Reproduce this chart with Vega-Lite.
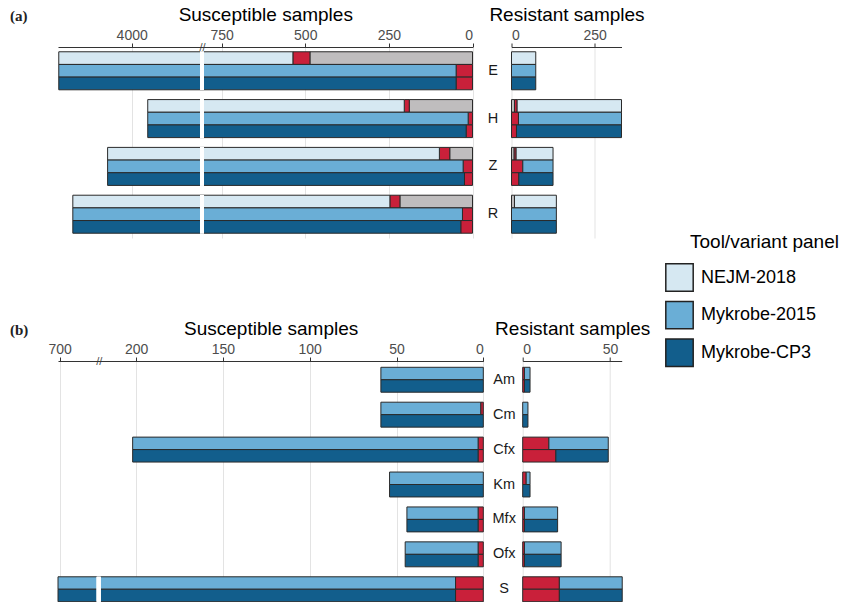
{
  "$schema": "https://vega.github.io/schema/vega-lite/v6.json",
  "padding": {"left": 10, "top": 5, "right": 0, "bottom": 0},
  "config": {
    "font": "Liberation Sans",
    "view": {"stroke": null},
    "axis": {
      "labelFont": "Liberation Sans", "labelFontSize": 14, "labelColor": "#4d4d4d",
      "titleFont": "Liberation Sans", "titleFontSize": 19, "titleFontWeight": "normal", "titleColor": "#000",
      "domainColor": "#333", "tickColor": "#333", "tickSize": 4, "gridColor": "#e3e3e3",
      "labelPadding": 1, "titlePadding": 4
    },
    "legend": {
      "orient": "none", "legendX": 632, "legendY": 186,
      "titleFontSize": 19, "titleFontWeight": "normal", "titleColor": "#000", "titleFont": "Liberation Sans", "titlePadding": 11,
      "labelFontSize": 18, "labelFont": "Liberation Sans", "labelColor": "#000",
      "symbolType": "square", "symbolSize": 751, "symbolStrokeColor": "#222", "symbolStrokeWidth": 1.5, "symbolOpacity": 1,
      "symbolOffset": -25, "labelOffset": 7,
      "rowPadding": 2.6, "labelLimit": 300, "titleLimit": 300
    }
  },
  "datasets": {
    "aS": [
      {"drug": "E", "tool": "NEJM-2018", "cat": "No call", "n": 486, "o": 1},
      {"drug": "E", "tool": "NEJM-2018", "cat": "Wrong", "n": 51, "o": 2},
      {"drug": "E", "tool": "NEJM-2018", "cat": "NEJM-2018", "n": 3681, "o": 3},
      {"drug": "E", "tool": "Mykrobe-2015", "cat": "Wrong", "n": 49, "o": 2},
      {"drug": "E", "tool": "Mykrobe-2015", "cat": "Mykrobe-2015", "n": 4169, "o": 3},
      {"drug": "E", "tool": "Mykrobe-CP3", "cat": "Wrong", "n": 49, "o": 2},
      {"drug": "E", "tool": "Mykrobe-CP3", "cat": "Mykrobe-CP3", "n": 4169, "o": 3},
      {"drug": "H", "tool": "NEJM-2018", "cat": "No call", "n": 189, "o": 1},
      {"drug": "H", "tool": "NEJM-2018", "cat": "Wrong", "n": 15, "o": 2},
      {"drug": "H", "tool": "NEJM-2018", "cat": "NEJM-2018", "n": 3748, "o": 3},
      {"drug": "H", "tool": "Mykrobe-2015", "cat": "Wrong", "n": 13, "o": 2},
      {"drug": "H", "tool": "Mykrobe-2015", "cat": "Mykrobe-2015", "n": 3939, "o": 3},
      {"drug": "H", "tool": "Mykrobe-CP3", "cat": "Wrong", "n": 19, "o": 2},
      {"drug": "H", "tool": "Mykrobe-CP3", "cat": "Mykrobe-CP3", "n": 3933, "o": 3},
      {"drug": "Z", "tool": "NEJM-2018", "cat": "No call", "n": 68, "o": 1},
      {"drug": "Z", "tool": "NEJM-2018", "cat": "Wrong", "n": 31, "o": 2},
      {"drug": "Z", "tool": "NEJM-2018", "cat": "NEJM-2018", "n": 3973, "o": 3},
      {"drug": "Z", "tool": "Mykrobe-2015", "cat": "Wrong", "n": 28, "o": 2},
      {"drug": "Z", "tool": "Mykrobe-2015", "cat": "Mykrobe-2015", "n": 4044, "o": 3},
      {"drug": "Z", "tool": "Mykrobe-CP3", "cat": "Wrong", "n": 24, "o": 2},
      {"drug": "Z", "tool": "Mykrobe-CP3", "cat": "Mykrobe-CP3", "n": 4048, "o": 3},
      {"drug": "R", "tool": "NEJM-2018", "cat": "No call", "n": 217, "o": 1},
      {"drug": "R", "tool": "NEJM-2018", "cat": "Wrong", "n": 30, "o": 2},
      {"drug": "R", "tool": "NEJM-2018", "cat": "NEJM-2018", "n": 3929, "o": 3},
      {"drug": "R", "tool": "Mykrobe-2015", "cat": "Wrong", "n": 30, "o": 2},
      {"drug": "R", "tool": "Mykrobe-2015", "cat": "Mykrobe-2015", "n": 4146, "o": 3},
      {"drug": "R", "tool": "Mykrobe-CP3", "cat": "Wrong", "n": 35, "o": 2},
      {"drug": "R", "tool": "Mykrobe-CP3", "cat": "Mykrobe-CP3", "n": 4141, "o": 3}
    ],
    "aR": [
      {"drug": "E", "tool": "NEJM-2018", "cat": "NEJM-2018", "n": 73, "o": 3},
      {"drug": "E", "tool": "Mykrobe-2015", "cat": "Mykrobe-2015", "n": 73, "o": 3},
      {"drug": "E", "tool": "Mykrobe-CP3", "cat": "Mykrobe-CP3", "n": 73, "o": 3},
      {"drug": "H", "tool": "NEJM-2018", "cat": "No call", "n": 9, "o": 1},
      {"drug": "H", "tool": "NEJM-2018", "cat": "Wrong", "n": 8, "o": 2},
      {"drug": "H", "tool": "NEJM-2018", "cat": "NEJM-2018", "n": 314, "o": 3},
      {"drug": "H", "tool": "Mykrobe-2015", "cat": "Wrong", "n": 21, "o": 2},
      {"drug": "H", "tool": "Mykrobe-2015", "cat": "Mykrobe-2015", "n": 310, "o": 3},
      {"drug": "H", "tool": "Mykrobe-CP3", "cat": "Wrong", "n": 15, "o": 2},
      {"drug": "H", "tool": "Mykrobe-CP3", "cat": "Mykrobe-CP3", "n": 316, "o": 3},
      {"drug": "Z", "tool": "NEJM-2018", "cat": "No call", "n": 8, "o": 1},
      {"drug": "Z", "tool": "NEJM-2018", "cat": "Wrong", "n": 6, "o": 2},
      {"drug": "Z", "tool": "NEJM-2018", "cat": "NEJM-2018", "n": 111, "o": 3},
      {"drug": "Z", "tool": "Mykrobe-2015", "cat": "Wrong", "n": 34, "o": 2},
      {"drug": "Z", "tool": "Mykrobe-2015", "cat": "Mykrobe-2015", "n": 91, "o": 3},
      {"drug": "Z", "tool": "Mykrobe-CP3", "cat": "Wrong", "n": 22, "o": 2},
      {"drug": "Z", "tool": "Mykrobe-CP3", "cat": "Mykrobe-CP3", "n": 103, "o": 3},
      {"drug": "R", "tool": "NEJM-2018", "cat": "No call", "n": 9, "o": 1},
      {"drug": "R", "tool": "NEJM-2018", "cat": "NEJM-2018", "n": 126, "o": 3},
      {"drug": "R", "tool": "Mykrobe-2015", "cat": "Mykrobe-2015", "n": 135, "o": 3},
      {"drug": "R", "tool": "Mykrobe-CP3", "cat": "Mykrobe-CP3", "n": 135, "o": 3}
    ],
    "bS": [
      {"drug": "Am", "tool": "Mykrobe-2015", "cat": "Mykrobe-2015", "n": 59, "o": 3},
      {"drug": "Am", "tool": "Mykrobe-CP3", "cat": "Mykrobe-CP3", "n": 59, "o": 3},
      {"drug": "Cm", "tool": "Mykrobe-2015", "cat": "Wrong", "n": 1.5, "o": 2},
      {"drug": "Cm", "tool": "Mykrobe-2015", "cat": "Mykrobe-2015", "n": 57.5, "o": 3},
      {"drug": "Cm", "tool": "Mykrobe-CP3", "cat": "Mykrobe-CP3", "n": 59, "o": 3},
      {"drug": "Cfx", "tool": "Mykrobe-2015", "cat": "Wrong", "n": 3, "o": 2},
      {"drug": "Cfx", "tool": "Mykrobe-2015", "cat": "Mykrobe-2015", "n": 199, "o": 3},
      {"drug": "Cfx", "tool": "Mykrobe-CP3", "cat": "Wrong", "n": 3, "o": 2},
      {"drug": "Cfx", "tool": "Mykrobe-CP3", "cat": "Mykrobe-CP3", "n": 199, "o": 3},
      {"drug": "Km", "tool": "Mykrobe-2015", "cat": "Mykrobe-2015", "n": 54, "o": 3},
      {"drug": "Km", "tool": "Mykrobe-CP3", "cat": "Mykrobe-CP3", "n": 54, "o": 3},
      {"drug": "Mfx", "tool": "Mykrobe-2015", "cat": "Wrong", "n": 3, "o": 2},
      {"drug": "Mfx", "tool": "Mykrobe-2015", "cat": "Mykrobe-2015", "n": 41, "o": 3},
      {"drug": "Mfx", "tool": "Mykrobe-CP3", "cat": "Wrong", "n": 3, "o": 2},
      {"drug": "Mfx", "tool": "Mykrobe-CP3", "cat": "Mykrobe-CP3", "n": 41, "o": 3},
      {"drug": "Ofx", "tool": "Mykrobe-2015", "cat": "Wrong", "n": 3, "o": 2},
      {"drug": "Ofx", "tool": "Mykrobe-2015", "cat": "Mykrobe-2015", "n": 42, "o": 3},
      {"drug": "Ofx", "tool": "Mykrobe-CP3", "cat": "Wrong", "n": 3, "o": 2},
      {"drug": "Ofx", "tool": "Mykrobe-CP3", "cat": "Mykrobe-CP3", "n": 42, "o": 3},
      {"drug": "S", "tool": "Mykrobe-2015", "cat": "Wrong", "n": 16, "o": 2},
      {"drug": "S", "tool": "Mykrobe-2015", "cat": "Mykrobe-2015", "n": 685, "o": 3},
      {"drug": "S", "tool": "Mykrobe-CP3", "cat": "Wrong", "n": 16, "o": 2},
      {"drug": "S", "tool": "Mykrobe-CP3", "cat": "Mykrobe-CP3", "n": 685, "o": 3}
    ],
    "bR": [
      {"drug": "Am", "tool": "Mykrobe-2015", "cat": "Wrong", "n": 1, "o": 2},
      {"drug": "Am", "tool": "Mykrobe-2015", "cat": "Mykrobe-2015", "n": 3.2, "o": 3},
      {"drug": "Am", "tool": "Mykrobe-CP3", "cat": "Wrong", "n": 1, "o": 2},
      {"drug": "Am", "tool": "Mykrobe-CP3", "cat": "Mykrobe-CP3", "n": 3.2, "o": 3},
      {"drug": "Cm", "tool": "Mykrobe-2015", "cat": "Mykrobe-2015", "n": 3, "o": 3},
      {"drug": "Cm", "tool": "Mykrobe-CP3", "cat": "Mykrobe-CP3", "n": 3, "o": 3},
      {"drug": "Cfx", "tool": "Mykrobe-2015", "cat": "Wrong", "n": 15, "o": 2},
      {"drug": "Cfx", "tool": "Mykrobe-2015", "cat": "Mykrobe-2015", "n": 34, "o": 3},
      {"drug": "Cfx", "tool": "Mykrobe-CP3", "cat": "Wrong", "n": 19, "o": 2},
      {"drug": "Cfx", "tool": "Mykrobe-CP3", "cat": "Mykrobe-CP3", "n": 30, "o": 3},
      {"drug": "Km", "tool": "Mykrobe-2015", "cat": "Wrong", "n": 2, "o": 2},
      {"drug": "Km", "tool": "Mykrobe-2015", "cat": "Mykrobe-2015", "n": 2.2, "o": 3},
      {"drug": "Km", "tool": "Mykrobe-CP3", "cat": "Mykrobe-CP3", "n": 4.2, "o": 3},
      {"drug": "Mfx", "tool": "Mykrobe-2015", "cat": "Wrong", "n": 1, "o": 2},
      {"drug": "Mfx", "tool": "Mykrobe-2015", "cat": "Mykrobe-2015", "n": 19, "o": 3},
      {"drug": "Mfx", "tool": "Mykrobe-CP3", "cat": "Wrong", "n": 1, "o": 2},
      {"drug": "Mfx", "tool": "Mykrobe-CP3", "cat": "Mykrobe-CP3", "n": 19, "o": 3},
      {"drug": "Ofx", "tool": "Mykrobe-2015", "cat": "Wrong", "n": 1, "o": 2},
      {"drug": "Ofx", "tool": "Mykrobe-2015", "cat": "Mykrobe-2015", "n": 21, "o": 3},
      {"drug": "Ofx", "tool": "Mykrobe-CP3", "cat": "Wrong", "n": 1, "o": 2},
      {"drug": "Ofx", "tool": "Mykrobe-CP3", "cat": "Mykrobe-CP3", "n": 21, "o": 3},
      {"drug": "S", "tool": "Mykrobe-2015", "cat": "Wrong", "n": 21, "o": 2},
      {"drug": "S", "tool": "Mykrobe-2015", "cat": "Mykrobe-2015", "n": 36, "o": 3},
      {"drug": "S", "tool": "Mykrobe-CP3", "cat": "Wrong", "n": 21, "o": 2},
      {"drug": "S", "tool": "Mykrobe-CP3", "cat": "Mykrobe-CP3", "n": 36, "o": 3}
    ]
  },
  "spacing": 81,
  "resolve": {"scale": {"yOffset": "independent"}},
  "vconcat": [
    {
      "title": {"text": "(a)", "anchor": "start", "frame": "group", "dx": -48, "dy": 19, "offset": 0, "font": "Liberation Serif", "fontSize": 15, "fontWeight": "bold", "color": "#222"},
      "bounds": "flush",
      "spacing": 38.5,
      "hconcat": [
        {
          "width": 414.5, "height": 191,
          "data": {"name": "aS"},
          "layer": [
            {
              "mark": {"type": "bar", "stroke": "#2a2a2a", "strokeWidth": 1},
              "encoding": {
                "y": {"field": "drug", "type": "nominal", "sort": ["E", "H", "Z", "R"], "scale": {"domain": ["E", "H", "Z", "R"], "paddingInner": 0.205, "paddingOuter": 0.1}, "axis": null},
                "yOffset": {"field": "tool", "type": "nominal", "scale": {"domain": ["NEJM-2018", "Mykrobe-2015", "Mykrobe-CP3"], "paddingInner": 0, "paddingOuter": 0}},
                "x": {"field": "n", "type": "quantitative", "stack": "zero",
                  "scale": {"domain": [0, 802.7, 3795.8, 4220.3], "range": [414.5, 146, 142, 0], "nice": false, "zero": false},
                  "axis": {"orient": "top", "title": "Susceptible samples", "values": [0, 250, 500, 750, 2300, 4000], "format": "d",
                    "labelExpr": "datum.value == 2300 ? '//' : datum.label",
                    "labelBaseline": {"condition": {"test": "datum.value == 2300", "value": "middle"}, "value": "bottom"},
                    "labelPadding": {"condition": {"test": "datum.value == 2300", "value": -4}, "value": 1},
                    "labelFontSize": {"condition": {"test": "datum.value == 2300", "value": 11}, "value": 14},
                    "tickOpacity": {"condition": {"test": "datum.value == 2300", "value": 0}, "value": 1},
                    "gridOpacity": {"condition": {"test": "datum.value == 2300", "value": 0}, "value": 1},
                    "grid": true}},
                "color": {"field": "cat", "type": "nominal",
                  "scale": {"domain": ["NEJM-2018", "Mykrobe-2015", "Mykrobe-CP3", "Wrong", "No call"], "range": ["#d6e8f2", "#6aaed6", "#125e8c", "#c9203a", "#bfbdbe"]},
                  "legend": {"values": ["NEJM-2018", "Mykrobe-2015", "Mykrobe-CP3"], "title": "Tool/variant panel"}},
                "order": {"field": "o", "type": "quantitative"}
              }
            },
            {
              "mark": {"type": "bar", "fill": "white", "stroke": null},
              "encoding": {
                "y": {"field": "drug", "type": "nominal", "sort": ["E", "H", "Z", "R"]},
                "x": {"datum": 802.7, "type": "quantitative"},
                "x2": {"datum": 3795.8}
              }
            }
          ]
        },
        {
          "width": 110, "height": 191,
          "data": {"name": "aR"},
          "mark": {"type": "bar", "stroke": "#2a2a2a", "strokeWidth": 1},
          "encoding": {
            "y": {"field": "drug", "type": "nominal", "sort": ["E", "H", "Z", "R"], "scale": {"domain": ["E", "H", "Z", "R"], "paddingInner": 0.205, "paddingOuter": 0.1},
              "axis": {"orient": "left", "title": null, "domain": false, "ticks": false, "tickSize": 0, "grid": false, "labelAlign": "center", "labelPadding": 19, "labelFontSize": 14.5, "labelColor": "#1a1a1a"}},
            "yOffset": {"field": "tool", "type": "nominal", "scale": {"domain": ["NEJM-2018", "Mykrobe-2015", "Mykrobe-CP3"], "paddingInner": 0, "paddingOuter": 0}},
            "x": {"field": "n", "type": "quantitative", "stack": "zero",
              "scale": {"domain": [0, 331], "nice": false},
              "axis": {"orient": "top", "title": "Resistant samples", "values": [0, 250], "grid": true}},
            "color": {"field": "cat", "type": "nominal",
              "scale": {"domain": ["NEJM-2018", "Mykrobe-2015", "Mykrobe-CP3", "Wrong", "No call"], "range": ["#d6e8f2", "#6aaed6", "#125e8c", "#c9203a", "#bfbdbe"]},
              "legend": {"values": ["NEJM-2018", "Mykrobe-2015", "Mykrobe-CP3"], "title": "Tool/variant panel"}},
            "order": {"field": "o", "type": "quantitative"}
          }
        }
      ]
    },
    {
      "title": {"text": "(b)", "anchor": "start", "frame": "group", "dx": -48, "dy": 19, "offset": 0, "font": "Liberation Serif", "fontSize": 15, "fontWeight": "bold", "color": "#222"},
      "bounds": "flush",
      "spacing": 38.7,
      "hconcat": [
        {
          "width": 425.3, "height": 247,
          "data": {"name": "bS"},
          "layer": [
            {
              "mark": {"type": "bar", "stroke": "#2a2a2a", "strokeWidth": 1},
              "encoding": {
                "y": {"field": "drug", "type": "nominal", "sort": ["Am", "Cm", "Cfx", "Km", "Mfx", "Ofx", "S"], "scale": {"domain": ["Am", "Cm", "Cfx", "Km", "Mfx", "Ofx", "S"], "paddingInner": 0.286, "paddingOuter": 0.18}, "axis": null},
                "yOffset": {"field": "tool", "type": "nominal", "scale": {"domain": ["Mykrobe-2015", "Mykrobe-CP3"], "paddingInner": 0, "paddingOuter": 0}},
                "x": {"field": "n", "type": "quantitative", "stack": "zero",
                  "scale": {"domain": [0, 220.4, 678.5, 701], "range": [425.3, 42.7, 38.7, 0], "nice": false, "zero": false},
                  "axis": {"orient": "top", "title": "Susceptible samples", "values": [0, 50, 100, 150, 200, 450, 700], "format": "d",
                    "labelExpr": "datum.value == 450 ? '//' : datum.label",
                    "labelBaseline": {"condition": {"test": "datum.value == 450", "value": "middle"}, "value": "bottom"},
                    "labelPadding": {"condition": {"test": "datum.value == 450", "value": -4}, "value": 1},
                    "labelFontSize": {"condition": {"test": "datum.value == 450", "value": 11}, "value": 14},
                    "tickOpacity": {"condition": {"test": "datum.value == 450", "value": 0}, "value": 1},
                    "gridOpacity": {"condition": {"test": "datum.value == 450", "value": 0}, "value": 1},
                    "grid": true}},
                "color": {"field": "cat", "type": "nominal",
                  "scale": {"domain": ["NEJM-2018", "Mykrobe-2015", "Mykrobe-CP3", "Wrong", "No call"], "range": ["#d6e8f2", "#6aaed6", "#125e8c", "#c9203a", "#bfbdbe"]},
                  "legend": {"values": ["NEJM-2018", "Mykrobe-2015", "Mykrobe-CP3"], "title": "Tool/variant panel"}},
                "order": {"field": "o", "type": "quantitative"}
              }
            },
            {
              "mark": {"type": "bar", "fill": "white", "stroke": null},
              "encoding": {
                "y": {"field": "drug", "type": "nominal", "sort": ["Am", "Cm", "Cfx", "Km", "Mfx", "Ofx", "S"]},
                "x": {"datum": 220.4, "type": "quantitative"},
                "x2": {"datum": 678.5}
              }
            }
          ]
        },
        {
          "width": 99, "height": 247,
          "data": {"name": "bR"},
          "mark": {"type": "bar", "stroke": "#2a2a2a", "strokeWidth": 1},
          "encoding": {
            "y": {"field": "drug", "type": "nominal", "sort": ["Am", "Cm", "Cfx", "Km", "Mfx", "Ofx", "S"], "scale": {"domain": ["Am", "Cm", "Cfx", "Km", "Mfx", "Ofx", "S"], "paddingInner": 0.286, "paddingOuter": 0.18},
              "axis": {"orient": "left", "title": null, "domain": false, "ticks": false, "tickSize": 0, "grid": false, "labelAlign": "center", "labelPadding": 19, "labelFontSize": 14.5, "labelColor": "#1a1a1a"}},
            "yOffset": {"field": "tool", "type": "nominal", "scale": {"domain": ["Mykrobe-2015", "Mykrobe-CP3"], "paddingInner": 0, "paddingOuter": 0}},
            "x": {"field": "n", "type": "quantitative", "stack": "zero",
              "scale": {"domain": [0, 56.7], "nice": false},
              "axis": {"orient": "top", "title": "Resistant samples", "values": [0, 50], "grid": true}},
            "color": {"field": "cat", "type": "nominal",
              "scale": {"domain": ["NEJM-2018", "Mykrobe-2015", "Mykrobe-CP3", "Wrong", "No call"], "range": ["#d6e8f2", "#6aaed6", "#125e8c", "#c9203a", "#bfbdbe"]},
              "legend": {"values": ["NEJM-2018", "Mykrobe-2015", "Mykrobe-CP3"], "title": "Tool/variant panel"}},
            "order": {"field": "o", "type": "quantitative"}
          }
        }
      ]
    }
  ]
}
